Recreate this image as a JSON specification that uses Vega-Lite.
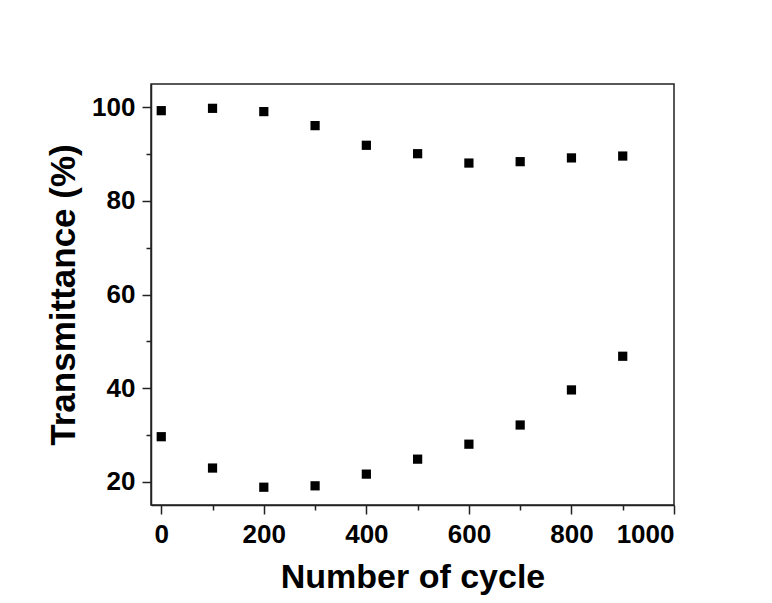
{
  "$schema": "https://vega.github.io/schema/vega-lite/v6.json",
  "width": 523,
  "height": 421,
  "autosize": "none",
  "padding": {"left": 151, "top": 84, "right": 98, "bottom": 98},
  "background": "white",
  "config": {
    "font": "Liberation Sans",
    "view": {"stroke": "#222222", "strokeWidth": 1.5},
    "axis": {
      "domainColor": "#222222",
      "domainWidth": 1.5,
      "tickColor": "#222222",
      "tickWidth": 1.5,
      "grid": false,
      "labelFont": "Liberation Sans",
      "labelFontWeight": "bold",
      "labelFontSize": 26,
      "labelColor": "black",
      "labelOverlap": false,
      "titleFont": "Liberation Sans",
      "titleFontWeight": "bold",
      "titleColor": "black"
    }
  },
  "data": {
    "values": [
      {"cycle": 0, "T": 99.3}, {"cycle": 100, "T": 99.8}, {"cycle": 200, "T": 99.1},
      {"cycle": 300, "T": 96.1}, {"cycle": 400, "T": 91.9}, {"cycle": 500, "T": 90.1},
      {"cycle": 600, "T": 88.1}, {"cycle": 700, "T": 88.4}, {"cycle": 800, "T": 89.2},
      {"cycle": 900, "T": 89.6},
      {"cycle": 0, "T": 29.6}, {"cycle": 100, "T": 22.9}, {"cycle": 200, "T": 18.8},
      {"cycle": 300, "T": 19.1}, {"cycle": 400, "T": 21.6}, {"cycle": 500, "T": 24.8},
      {"cycle": 600, "T": 28.0}, {"cycle": 700, "T": 32.1}, {"cycle": 800, "T": 39.6},
      {"cycle": 900, "T": 46.8}
    ]
  },
  "mark": {"type": "point", "shape": "square", "filled": true, "size": 85, "color": "black", "opacity": 1},
  "encoding": {
    "x": {
      "field": "cycle",
      "type": "quantitative",
      "scale": {"domain": [-20, 1000], "nice": false, "zero": false},
      "axis": {
        "title": "Number of cycle",
        "format": "d",
        "values": [0, 100, 200, 300, 400, 500, 600, 700, 800, 900, 1000],
        "labelExpr": "datum.value % 200 === 0 ? datum.label : ''",
        "tickSize": {"condition": {"test": "datum.value % 200 === 0", "value": 9}, "value": 5},
        "labelPadding": 7,
        "titleFontSize": 34,
        "titlePadding": 13
      }
    },
    "y": {
      "field": "T",
      "type": "quantitative",
      "scale": {"domain": [15, 105], "nice": false, "zero": false},
      "axis": {
        "title": "Transmittance (%)",
        "values": [20, 30, 40, 50, 60, 70, 80, 90, 100],
        "labelExpr": "datum.value % 20 === 0 ? datum.label : ''",
        "tickSize": {"condition": {"test": "datum.value % 20 === 0", "value": 9}, "value": 5},
        "labelPadding": 7,
        "titleFontSize": 35,
        "titlePadding": 10
      }
    }
  }
}
